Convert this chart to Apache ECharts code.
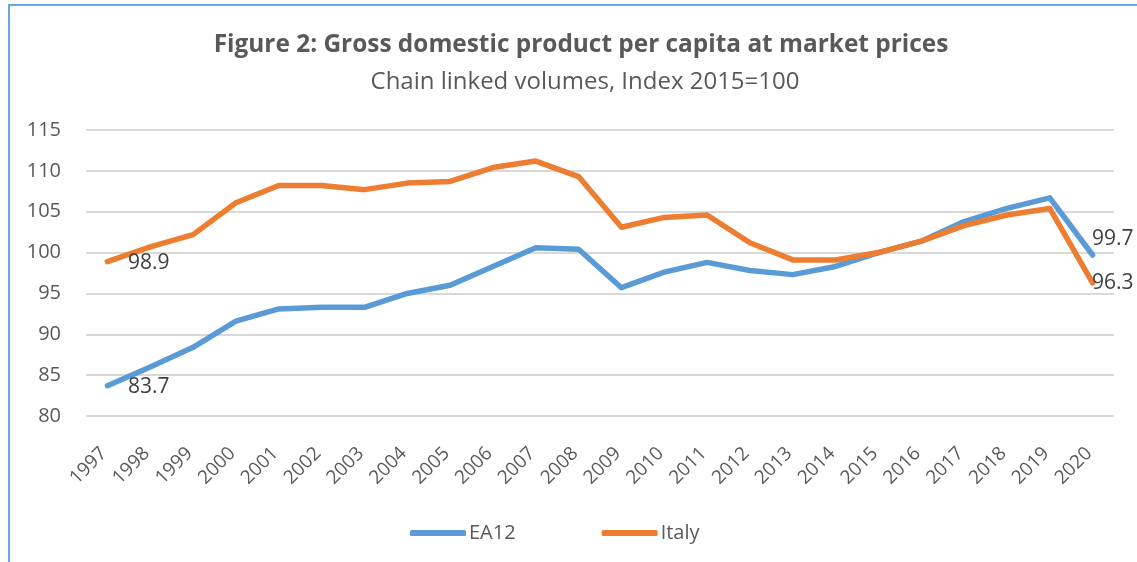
<!DOCTYPE html>
<html>
<head>
<meta charset="utf-8">
<script src="https://cdn.jsdelivr.net/npm/echarts@6/dist/echarts.min.js"></script>
<style>
  html, body { margin: 0; padding: 0; background: #fff; }
  #chart { width: 1137px; height: 562px; }
</style>
</head>
<body>
<div id="chart"></div>
<script>
// GDP per capita, chain linked volumes, index 2015 = 100
const years = ['1997','1998','1999','2000','2001','2002','2003','2004','2005','2006','2007','2008',
               '2009','2010','2011','2012','2013','2014','2015','2016','2017','2018','2019','2020'];
const ea12  = [83.7, 86.0, 88.4, 91.6, 93.1, 93.3, 93.3, 95.0, 96.0, 98.3, 100.6, 100.4,
               95.7, 97.6, 98.8, 97.8, 97.3, 98.3, 100.0, 101.4, 103.8, 105.4, 106.7, 99.7];
const italy = [98.9, 100.7, 102.2, 106.1, 108.2, 108.2, 107.7, 108.5, 108.7, 110.4, 111.2, 109.3,
               103.1, 104.3, 104.6, 101.2, 99.1, 99.1, 100.0, 101.4, 103.3, 104.6, 105.4, 96.3];
const yTicks = { min: 80, max: 115, step: 5 };

const FONT = '"Open Sans"';
const TXT = '#595959';

// first and last points carry their value as a label
function withEndLabels(values, lastOffset) {
  return values.map((v, i) => {
    if (i === 0) {
      return { value: v, label: { show: true, position: [21, 2] } };
    }
    if (i === values.length - 1) {
      return { value: v, label: { show: true, position: [0, lastOffset] } };
    }
    return v;
  });
}

const labelStyle = {
  fontFamily: FONT, fontSize: 21, color: '#404040',
  align: 'left', verticalAlign: 'middle',
  formatter: p => p.value.toFixed(1)
};

const chart = echarts.init(document.getElementById('chart'), null, { renderer: 'canvas' });
chart.setOption({
  animation: false,
  backgroundColor: '#fff',
  title: [
    {
      text: 'Figure 2: Gross domestic product per capita at market prices',
      left: 576, top: 28, textAlign: 'center',
      textStyle: { fontFamily: FONT, fontSize: 24.4, fontWeight: 'bold', color: TXT }
    },
    {
      text: 'Chain linked volumes, Index 2015=100',
      left: 580, top: 65, textAlign: 'center',
      textStyle: { fontFamily: FONT, fontSize: 24, fontWeight: 'normal', color: TXT }
    }
  ],
  graphic: [{
    type: 'rect', silent: true,
    shape: { x: 9, y: 5, width: 1300, height: 700 },
    style: { fill: 'none', stroke: '#6fa5d8', lineWidth: 2 }
  }],
  legend: {
    top: 518, left: 405,
    itemWidth: 56, itemHeight: 6, itemGap: 86,
    icon: 'roundRect',
    textStyle: { fontFamily: FONT, fontSize: 20, color: TXT, padding: [0, 0, 0, -2] },
    data: ['EA12', 'Italy']
  },
  grid: { left: 86, right: 23, top: 130, bottom: 146, containLabel: false },
  xAxis: {
    type: 'category', data: years, boundaryGap: true,
    axisLine: { show: false }, axisTick: { show: false },
    axisLabel: {
      rotate: 45, margin: 31, padding: [0, 5, 0, 0],
      fontFamily: FONT, fontSize: 19, color: TXT, interval: 0
    }
  },
  yAxis: {
    type: 'value', min: yTicks.min, max: yTicks.max, interval: yTicks.step,
    axisLine: { show: false }, axisTick: { show: false },
    axisLabel: { margin: 25, fontFamily: FONT, fontSize: 20, color: TXT },
    splitLine: { lineStyle: { color: '#d9d9d9', width: 2 } }
  },
  series: [
    {
      name: 'EA12', type: 'line', data: withEndLabels(ea12, -16),
      color: '#5b9bd5', symbol: 'circle', symbolSize: 1, showSymbol: true,
      lineStyle: { width: 5.5, color: '#5b9bd5', cap: 'round', join: 'round' },
      label: labelStyle, z: 2
    },
    {
      name: 'Italy', type: 'line', data: withEndLabels(italy, 1),
      color: '#ed7d31', symbol: 'circle', symbolSize: 1, showSymbol: true,
      lineStyle: { width: 5.5, color: '#ed7d31', cap: 'round', join: 'round' },
      label: labelStyle, z: 3
    }
  ]
});
</script>
</body>
</html>
